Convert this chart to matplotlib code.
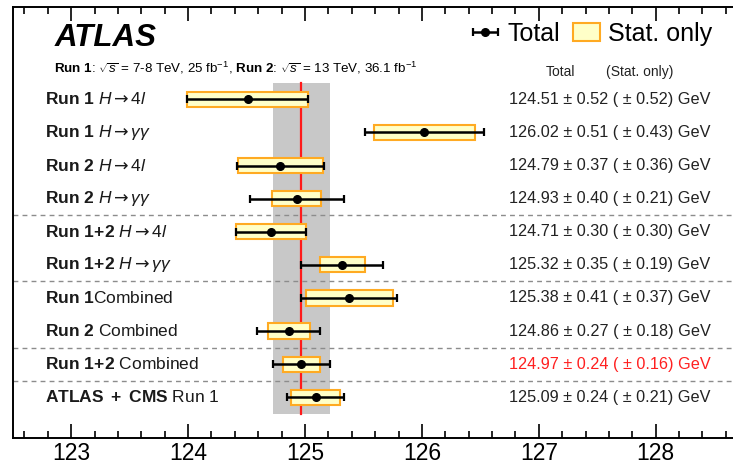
import matplotlib
matplotlib.use("Agg")
import matplotlib.pyplot as plt
import matplotlib.transforms as mtransforms
from matplotlib.patches import Patch
from matplotlib.ticker import MultipleLocator

plt.rcParams['font.family'] = ['Liberation Sans', 'DejaVu Sans']
plt.rcParams['mathtext.fontset'] = 'custom'
plt.rcParams['mathtext.rm'] = 'Liberation Sans'
plt.rcParams['mathtext.it'] = 'Liberation Sans:italic'
plt.rcParams['mathtext.bf'] = 'Liberation Sans:bold'
plt.rcParams['mathtext.sf'] = 'DejaVu Sans'

# ---- data ----
labels = [
    r"$\mathbf{Run\ 1}$ $H\mathsf{\rightarrow}4l$",
    r"$\mathbf{Run\ 1}$ $H\mathsf{\rightarrow}\gamma\gamma$",
    r"$\mathbf{Run\ 2}$ $H\mathsf{\rightarrow}4l$",
    r"$\mathbf{Run\ 2}$ $H\mathsf{\rightarrow}\gamma\gamma$",
    r"$\mathbf{Run\ 1\!+\!2}$ $H\mathsf{\rightarrow}4l$",
    r"$\mathbf{Run\ 1\!+\!2}$ $H\mathsf{\rightarrow}\gamma\gamma$",
    r"$\mathbf{Run\ 1}$Combined",
    r"$\mathbf{Run\ 2}$ Combined",
    r"$\mathbf{Run\ 1\!+\!2}$ Combined",
    r"$\mathbf{ATLAS\ +\ CMS}$ Run 1",
]
centers = [124.51, 126.02, 124.79, 124.93, 124.71, 125.32, 125.38, 124.86, 124.97, 125.09]
tot_err = [0.52, 0.51, 0.37, 0.40, 0.30, 0.35, 0.41, 0.27, 0.24, 0.24]
stat_err = [0.52, 0.43, 0.36, 0.21, 0.30, 0.19, 0.37, 0.18, 0.16, 0.21]
highlight_index = 8          # Run 1+2 Combined (ATLAS result)
separators_after = [3, 5, 7, 8]
x_ticks = [123, 124, 125, 126, 127, 128]

n = len(labels)
ypos = [n - i for i in range(n)]

W, H = 733, 466
fig = plt.figure(figsize=(W / 100, H / 100), dpi=100)
left_px, right_px, top_px, bot_px = 12.7, 743.4, 6.7, 438.3
ax = fig.add_axes([left_px / W, 1 - bot_px / H, (right_px - left_px) / W, (bot_px - top_px) / H])
ax.set_xlim(122.5, 128.75)
ax.set_ylim(-0.24, 12.8)

# combined band and line
comb = centers[highlight_index]
comb_err = tot_err[highlight_index]
ax.fill_betweenx([0.5, n + 0.5], comb - comb_err, comb + comb_err,
                 color='#c8c8c8', lw=0, zorder=1)
ax.plot([comb, comb], [0.5, n + 0.5], color='#ff1a1a', lw=1.6, zorder=2)

# separators
for i in separators_after:
    ax.axhline(ypos[i] - 0.5, color='#8c8c8c', lw=1.0, ls=(0, (3.5, 3)), zorder=1)

# stat boxes
ax.barh(ypos, [2 * s for s in stat_err], left=[c - s for c, s in zip(centers, stat_err)],
        height=0.46, color='#ffffc8', edgecolor='#ffaa22', lw=1.5, zorder=3)
# total errors
eb = ax.errorbar(centers, ypos, xerr=tot_err, fmt='o', color='black', ms=5.5,
                 elinewidth=1.8, capsize=3.2, capthick=1.6, zorder=4)

# labels
trans = mtransforms.blended_transform_factory(fig.transFigure, ax.transData)
for i in range(n):
    ax.text(45 / W, ypos[i], labels[i], transform=trans, fontsize=12.5,
            va='center', ha='left', color='#1a1a1a')
    col = '#ff2020' if i == highlight_index else '#222222'
    txt = f"{centers[i]:.2f} \u00b1 {tot_err[i]:.2f} ( \u00b1 {stat_err[i]:.2f}) GeV"
    ax.text(509 / W, ypos[i], txt, transform=trans, fontsize=11.7,
            va='center', ha='left', color=col)

# header
fig.text(560 / W, 1 - 72 / H, "Total", fontsize=10, ha='center', va='center', color='#222222')
fig.text(640 / W, 1 - 72 / H, "(Stat. only)", fontsize=10, ha='center', va='center', color='#222222')

fig.text(55 / W, 1 - 38.5 / H, "ATLAS", fontsize=22.5, fontweight='bold', fontstyle='italic',
         ha='left', va='center')
fig.text(54 / W, 1 - 68 / H,
         r"$\mathbf{Run\ 1}$: $\sqrt{s}$ = 7-8 TeV, 25 fb$^{-1}$, $\mathbf{Run\ 2}$: $\sqrt{s}$ = 13 TeV, 36.1 fb$^{-1}$",
         fontsize=9.6, ha='left', va='center')

# legend
stat_handle = Patch(facecolor='#ffffc8', edgecolor='#ffaa22', lw=1.5)
ax.legend([eb, stat_handle], ["Total", "Stat. only"], ncol=2, frameon=False,
          fontsize=18, loc='center left', bbox_to_anchor=(472 / W, 1 - 34 / H),
          bbox_transform=fig.transFigure, borderpad=0, borderaxespad=0,
          handlelength=1.05, handletextpad=0.35, columnspacing=0.55, handleheight=0.75)

# axes styling
ax.set_yticks([])
ax.set_xticks(x_ticks)
ax.xaxis.set_minor_locator(MultipleLocator(0.2))
ax.tick_params(axis='x', which='both', direction='in', top=True, bottom=True)
ax.tick_params(axis='x', which='major', length=10, width=1.2, labelsize=16.5, pad=3)
ax.tick_params(axis='x', which='minor', length=5, width=1.2)
ax.spines['right'].set_visible(False)
for s in ['left', 'top', 'bottom']:
    ax.spines[s].set_linewidth(1.4)

fig.savefig("out.png", dpi=100)
